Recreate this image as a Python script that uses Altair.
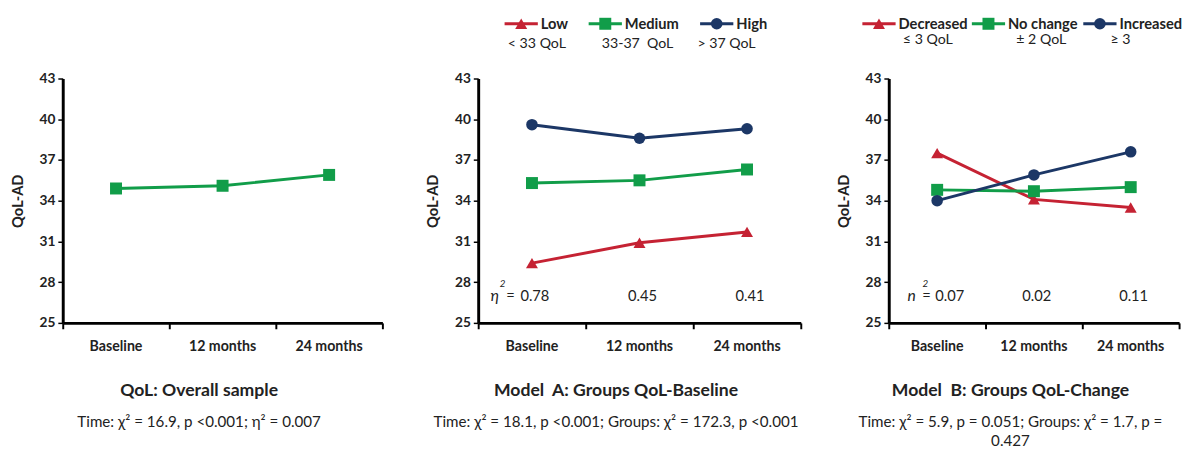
import altair as alt
import pandas as pd

FONT = "Lato"

times = ["Baseline", "12 months", "24 months"]
time_pos = [0.5, 1.5, 2.5]
y_ticks = [25, 28, 31, 34, 37, 40, 43]

# Panel 1: overall sample
overall = [34.9, 35.1, 35.9]

# Panel 2: Model A (baseline groups)
a_names = ["Low", "Medium", "High"]
a_low = [29.4, 30.9, 31.7]
a_medium = [35.3, 35.5, 36.3]
a_high = [39.6, 38.6, 39.3]
a_ranges = ["< 33 QoL", "33-37\u00a0\u00a0QoL", "> 37 QoL"]
a_eta = ["0.78", "0.45", "0.41"]

# Panel 3: Model B (change groups)
b_names = ["Decreased", "No change", "Increased"]
b_dec = [37.5, 34.1, 33.5]
b_nc = [34.8, 34.7, 35.0]
b_inc = [34.0, 35.9, 37.6]
b_ranges = ["\u2264 3 QoL", "\u00b1 2 QoL", "\u2265 3"]
b_eta = ["0.07", "0.02", "0.11"]
eta_level = 27.0

RED, GREEN, NAVY = "#C52233", "#119D49", "#1C3766"
SHAPES = {"tri": "triangle-up", "sq": "square", "ci": "circle"}
SIZES = {"tri": 150, "sq": 150, "ci": 140}

H = 250


def panel(width, series, title, subtitle, eta=None, eta_sym=None,
          eta_offsets=None, legend=None):
    rows = []
    for name, vals, color, shp in series:
        for t, p, v in zip(times, time_pos, vals):
            rows.append(dict(group=name, time=t, pos=p, v=v, c=color,
                             shape=SHAPES[shp], sz=SIZES[shp]))
    df = pd.DataFrame(rows)
    x = alt.X("pos:Q", scale=alt.Scale(domain=[0, 3], nice=False, zero=False),
              axis=alt.Axis(values=[0, 1, 2, 3], labels=False, title=None,
                            tickSize=6, tickWidth=2, tickColor="black",
                            domainColor="black", domainWidth=3, grid=False))
    y = alt.Y("v:Q", scale=alt.Scale(domain=[25, 43], nice=False, zero=False),
              axis=alt.Axis(values=y_ticks, title="QoL-AD", titleFont=FONT,
                            titleFontSize=15, titleFontWeight="bold",
                            titleColor="#222", titlePadding=14,
                            labelFont=FONT, labelFontSize=14,
                            labelFontWeight="bold", labelColor="#222",
                            labelPadding=3, tickSize=5, tickWidth=1.5,
                            tickColor="black", domainColor="black",
                            domainWidth=3, grid=False))
    base = alt.Chart(df)
    layers = []
    for name, vals, color, shp in series:
        sub = base.transform_filter(alt.datum.group == name)
        layers.append(sub.mark_line(strokeWidth=3).encode(
            x=x, y=y, color=alt.Color("c:N", scale=None)))
        layers.append(sub.mark_point(filled=True, opacity=1).encode(
            x="pos:Q", y="v:Q", color=alt.Color("c:N", scale=None),
            shape=alt.Shape("shape:N", scale=None),
            size=alt.Size("sz:Q", scale=None)))

    tdf = pd.DataFrame({"time": times, "pos": time_pos})
    layers.append(alt.Chart(tdf).mark_text(font=FONT, fontSize=14.5,
                                           fontWeight="bold", color="#222",
                                           baseline="middle").encode(
        x="pos:Q", y=alt.value(H + 25), text="time:N"))

    if eta is not None:
        sym_dx, sup_dx, eq_dx, first_dx, other_dx = eta_offsets
        edf = pd.DataFrame({"pos": time_pos, "lab": eta,
                            "v": [eta_level] * 3})
        layers.append(alt.Chart(edf.iloc[1:]).mark_text(
            font=FONT, fontSize=15, color="#222", dx=other_dx).encode(
            x="pos:Q", y="v:Q", text="lab:N"))
        first = alt.Chart(edf.iloc[:1])
        layers.append(first.mark_text(
            font=FONT, fontSize=15, color="#222", dx=first_dx).encode(
            x="pos:Q", y="v:Q", text="lab:N"))
        layers.append(first.mark_text(
            font=FONT, fontSize=16, fontStyle="italic", color="#222",
            dx=sym_dx).encode(x="pos:Q", y="v:Q", text=alt.value(eta_sym)))
        layers.append(first.mark_text(
            font=FONT, fontSize=10, fontStyle="italic", color="#222",
            dx=sup_dx, dy=-12).encode(x="pos:Q", y="v:Q", text=alt.value("2")))
        layers.append(first.mark_text(
            font=FONT, fontSize=15, color="#222",
            dx=eq_dx).encode(x="pos:Q", y="v:Q", text=alt.value("=")))

    if legend is not None:
        names, starts, centers, row2_y, colors, shps, ranges = legend
        ldf = pd.DataFrame({
            "name": names,
            "x1": starts,
            "x2": [s + 34 for s in starts],
            "xm": [s + 17 for s in starts],
            "xl": [s + 37 for s in starts],
            "xc": centers,
            "c": colors,
            "shape": [SHAPES[s] for s in shps],
            "sz": [SIZES[s] for s in shps],
            "rng": ranges,
        })
        lc = alt.Chart(ldf)
        layers.append(lc.mark_rule(strokeWidth=3).encode(
            x=alt.X("x1:Q", scale=None), x2="x2:Q", y=alt.value(-56),
            color=alt.Color("c:N", scale=None)))
        layers.append(lc.mark_point(filled=True, opacity=1).encode(
            x=alt.X("xm:Q", scale=None), y=alt.value(-56),
            color=alt.Color("c:N", scale=None),
            shape=alt.Shape("shape:N", scale=None),
            size=alt.Size("sz:Q", scale=None)))
        layers.append(lc.mark_text(font=FONT, fontSize=15, fontWeight="bold",
                                   color="#222", align="left").encode(
            x=alt.X("xl:Q", scale=None), y=alt.value(-56), text="name:N"))
        layers.append(lc.mark_text(font=FONT, fontSize=14.5, color="#222",
                                   align="center").encode(
            x=alt.X("xc:Q", scale=None), y=alt.value(row2_y), text="rng:N"))

    cx = width / 2 - 24
    layers.append(alt.Chart(tdf.head(1)).mark_text(font=FONT, fontSize=18,
                                           fontWeight="bold", color="#222").encode(
        x=alt.value(cx), y=alt.value(H + 70), text=alt.value(title)))
    layers.append(alt.Chart(tdf.head(1)).mark_text(font=FONT, fontSize=15.5,
                                           color="#222", lineBreak="\n",
                                           baseline="top",
                                           lineHeight=20).encode(
        x=alt.value(cx), y=alt.value(H + 94), text=alt.value(subtitle)))

    return alt.layer(*layers).properties(width=width, height=H)


p1 = panel(327, [("Overall", overall, GREEN, "sq")],
           "QoL: Overall sample",
           "Time: \u03c7\u00b2 = 16.9, p <0.001; \u03b7\u00b2 = 0.007")

p2 = panel(330, [("Low", a_low, RED, "tri"), ("Medium", a_medium, GREEN, "sq"),
                 ("High", a_high, NAVY, "ci")],
           "Model\u00a0\u00a0A: Groups QoL-Baseline",
           "Time: \u03c7\u00b2 = 18.1, p <0.001; Groups: \u03c7\u00b2 = 172.3, p <0.001",
           eta=a_eta, eta_sym="\u03b7", eta_offsets=(-38, -30, -22, 3, 3),
           legend=(a_names, [27, 113, 227], [60, 163, 254], -35,
                   [RED, GREEN, NAVY], ["tri", "sq", "ci"], a_ranges))

p3 = panel(297, [("Decreased", b_dec, RED, "tri"), ("No change", b_nc, GREEN, "sq"),
                 ("Increased", b_inc, NAVY, "ci")],
           "Model\u00a0\u00a0B: Groups QoL-Change",
           "Time: \u03c7\u00b2 = 5.9, p = 0.051; Groups: \u03c7\u00b2 = 1.7, p =\n0.427",
           eta=b_eta, eta_sym="n", eta_offsets=(-26, -12, -11, 13, 3),
           legend=(b_names, [-27, 85, 199], [40, 156, 237], -39,
                   [RED, GREEN, NAVY], ["tri", "sq", "ci"], b_ranges))

right = alt.hconcat(p2, p3, spacing=90, bounds="flush")
chart = alt.hconcat(p1, right, spacing=98, bounds="flush").configure_view(
    stroke=None).properties(
    padding={"left": 2, "top": 4, "right": 0, "bottom": 0},
    background="white")

chart.save("out.html", embed_options={"renderer": "svg", "actions": False})
